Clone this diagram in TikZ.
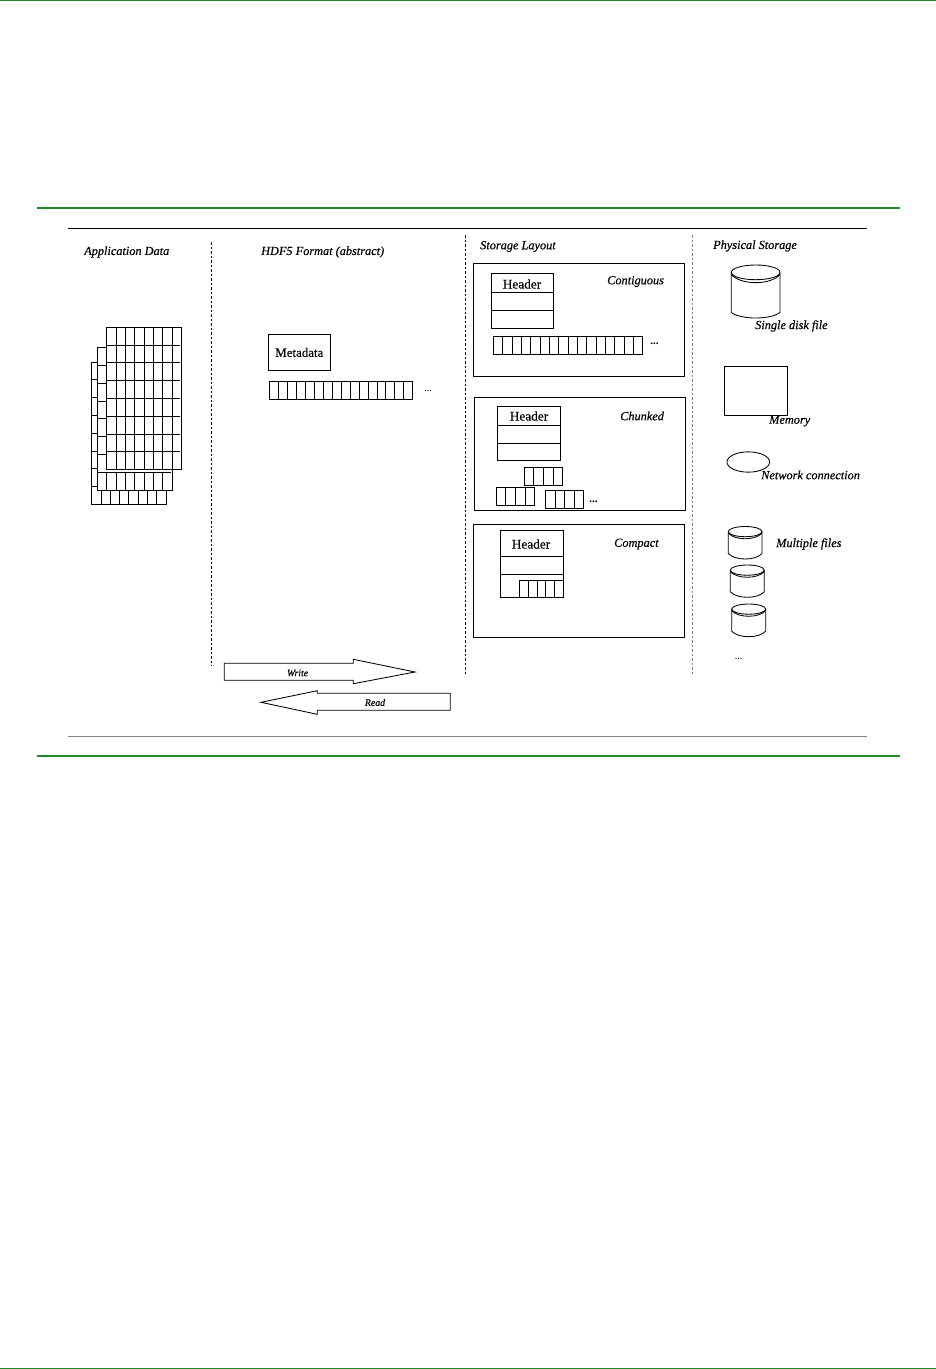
\documentclass[tikz,border=0pt]{standalone}
\usepackage{fontspec}
\usetikzlibrary{shapes.geometric}
\setmainfont{Liberation Serif}
\newfontface\heavyitalic{Liberation Serif Italic}[FakeBold=0.35]
\newfontface\heavyroman{Liberation Serif}[FakeBold=0.35]
\definecolor{rulegreen}{RGB}{32,135,42}
\definecolor{softgray}{RGB}{130,130,130}
\tikzset{
  x=1pt,y=-1pt,
  shape line/.style={draw=black,line width=0.85pt},
  sep line/.style={draw=black,line width=0.8pt,dash pattern=on 2.5pt off 2pt},
  green rule/.style={draw=rulegreen,line width=1.3pt},
  lab/.style={inner sep=0pt,anchor=west,font=\fontsize{12.3}{14}\heavyitalic},
  tiny lab/.style={inner sep=0pt,font=\fontsize{9.8}{11}\heavyitalic},
  head lab/.style={inner sep=0pt,font=\fontsize{13.3}{15}\heavyroman},
  dots lab/.style={inner sep=0pt,font=\fontsize{10}{12}\selectfont},
  bold dots/.style={inner sep=0pt,font=\fontsize{11}{13}\selectfont\bfseries}
}
% cell array: x1 y1 x2 y2 n
\newcommand{\cellarray}[5]{%
  \draw[shape line] (#1,#2) rectangle (#3,#4);
  \pgfmathsetmacro{\cellw}{(#3-#1)/#5}
  \pgfmathtruncatemacro{\lastc}{#5-1}
  \foreach \i in {1,...,\lastc}{\draw[shape line,line width=0.7pt] ({#1+\i*\cellw},#2) -- ({#1+\i*\cellw},#4);}
}
% cylinder: x1 ytop x2 ylowerOfEllipse ybottom
\newcommand{\cyl}[5]{%
  \pgfmathsetmacro{\cx}{(#1+#3)/2}
  \pgfmathsetmacro{\rx}{(#3-#1)/2}
  \pgfmathsetmacro{\ry}{(#4-#2)/2}
  \pgfmathsetmacro{\cy}{(#2+#4)/2}
  \draw[shape line] (\cx,\cy) ellipse [x radius=\rx,y radius=\ry];
  \draw[shape line] (#1,{\cy+0.3*\ry}) .. controls ({#1+\rx*0.4},{\cy+\ry*1.77}) and ({#3-\rx*0.4},{\cy+\ry*1.77}) .. (#3,{\cy+0.3*\ry});
  \draw[shape line] (#1,\cy) -- (#1,{#5-5.5}) .. controls ({#1+\rx*0.4},{#5+1.83}) and ({#3-\rx*0.4},{#5+1.83}) .. (#3,{#5-5.5}) -- (#3,\cy);
}
\begin{document}
\begin{tikzpicture}
\useasboundingbox (0,0) rectangle (936,1369);
\fill[white] (0,0) rectangle (936,1369);
% page rules
\draw[green rule] (0,0.5) -- (936,0.5);
\draw[green rule] (37,208) -- (900,208);
\draw[green rule] (37,756) -- (900,756);
\draw[green rule] (0,1368.3) -- (936,1368.3);
\draw[line width=0.9pt] (68,228.5) -- (867,228.5);
\draw[softgray,line width=0.9pt] (68,736.5) -- (867,736.5);
% separators
\draw[sep line] (211.3,242) -- (211.3,666);
\draw[sep line] (465.5,235) -- (465.5,674);
\draw[sep line,draw=softgray] (692.5,235) -- (692.5,674);
% column titles
\node[lab] (appdata) at (84,252) {Application Data};
\node[lab] (format) at (261,252) {HDF5 Format (abstract)};
\node[lab] (layout) at (480,246.5) {Storage Layout};
\node[lab] (physical) at (713,246) {Physical Storage};
% application data stack: back layer
\draw[shape line] (91.3,362.3) -- (91.3,504.3) -- (166.7,504.3) -- (166.7,490);
\draw[shape line] (91.3,362.3) -- (97.3,362.3);
\foreach \y in {379.3,397.3,415.3,433.3,451.3,468.3,486.3}{\draw[shape line] (91.3,\y) -- (97.3,\y);}
\foreach \x in {101.3,110.3,119.3,128.3,138.3,147.3,156.3}{\draw[shape line,line width=0.7pt] (\x,490) -- (\x,504.3);}
% middle layer
\draw[shape line] (106.7,347.3) -- (97.3,347.3) -- (97.3,490) -- (172.3,490) -- (172.3,469.3);
\foreach \y in {365.3,383.3,401.3,418.3,436.3,454.3}{\draw[shape line] (97.3,\y) -- (106.7,\y);}
\draw[shape line] (97.3,472.3) -- (170.7,472.3);
\foreach \x in {106.7,116.3,125.3,134.7,144.3,153.3,162.7}{\draw[shape line,line width=0.7pt] (\x,472.3) -- (\x,490);}
% front layer
\draw[shape line] (106.7,327.3) rectangle (181.3,469.3);
\foreach \x in {116.3,125.3,134.7,144.3,153.3,162.7,172.3}{\draw[shape line,line width=0.7pt] (\x,327.3) -- (\x,469.3);}
\foreach \y in {345.3,362.3,380.3,398.3,416.3,434.3,451.3}{\draw[shape line,line width=0.7pt] (106.7,\y) -- (180,\y);}
% metadata
\node[shape line,inner sep=0pt,minimum width=62pt,minimum height=36.4pt,font=\fontsize{12.9}{15}\heavyroman] (metadata) at (299.3,352.5) {Metadata};
\cellarray{269.3}{381.3}{412.7}{399.3}{16}
\node[dots lab] (fdots) at (428,391) {...};
% contiguous
\draw[shape line] (473.3,263.3) rectangle (684.7,376);
\draw[shape line] (491.3,273.3) rectangle (553.3,328);
\draw[shape line] (491.3,292.7) -- (553.3,292.7);
\draw[shape line] (491.3,310.7) -- (553.3,310.7);
\node[head lab] (h1) at (522,284) {Header};
\node[lab] (contig) at (607,281.5) {Contiguous};
\cellarray{493.3}{336.3}{642.7}{354.3}{16}
\node[bold dots] (cdots) at (654.5,344) {...};
% chunked
\draw[shape line] (474.7,397.7) rectangle (685.7,510);
\draw[shape line] (497.3,406.3) rectangle (560.3,460.7);
\draw[shape line] (497.3,425) -- (560.3,425);
\draw[shape line] (497.3,443) -- (560.3,443);
\node[head lab] (h2) at (529,416) {Header};
\node[lab] (chunked) at (620,416) {Chunked};
\cellarray{524}{467.3}{562.7}{485.3}{4}
\cellarray{496}{487.3}{534.7}{505.3}{4}
\cellarray{545.3}{490.3}{583.7}{508.3}{4}
\node[bold dots] (kdots) at (593.5,502) {...};
% compact
\draw[shape line] (473.3,524.3) rectangle (684.7,637.3);
\draw[shape line] (500.3,530.3) rectangle (563.3,597.3);
\draw[shape line] (500.3,556.7) -- (563.3,556.7);
\draw[shape line] (500.3,574.3) -- (563.3,574.3);
\node[head lab] (h3) at (531,544) {Header};
\node[lab] (compact) at (614,544) {Compact};
\cellarray{519.3}{580.3}{563.3}{597.3}{5}
% physical storage
\cyl{731.3}{265}{780}{279.7}{318}
\node[lab] (single) at (755,326) {Single disk file};
\draw[shape line] (724.3,366.3) rectangle (787.3,415);
\node[lab] (memory) at (769,421) {Memory};
\node[shape line,ellipse,inner sep=0pt,minimum width=42.7pt,minimum height=20.3pt] (net) at (748.3,462) {};
\node[lab] (network) at (761,475) {Network connection};
\cyl{728.3}{526.5}{762}{536.7}{559}
\node[lab] (multiple) at (776,544) {Multiple files};
\cyl{730.3}{565}{764.3}{575.2}{597.3}
\cyl{731.7}{604}{765.7}{614.2}{636.7}
\node[dots lab] (pdots) at (738.5,659) {...};
% arrows
\draw[shape line,fill=white] (224.3,663.3) -- (353.3,663.3) -- (353.3,659.3) -- (415,672) -- (353.3,683.7) -- (353.3,680.3) -- (224.3,680.3) -- cycle;
\node[tiny lab] (write) at (297.5,673) {Write};
\draw[shape line,fill=white] (450.3,693.3) -- (317.3,693.3) -- (317.3,690.7) -- (261,702.3) -- (317.3,714.3) -- (317.3,710.3) -- (450.3,710.3) -- cycle;
\node[tiny lab] (read) at (375,702.5) {Read};
\end{tikzpicture}
\end{document}
